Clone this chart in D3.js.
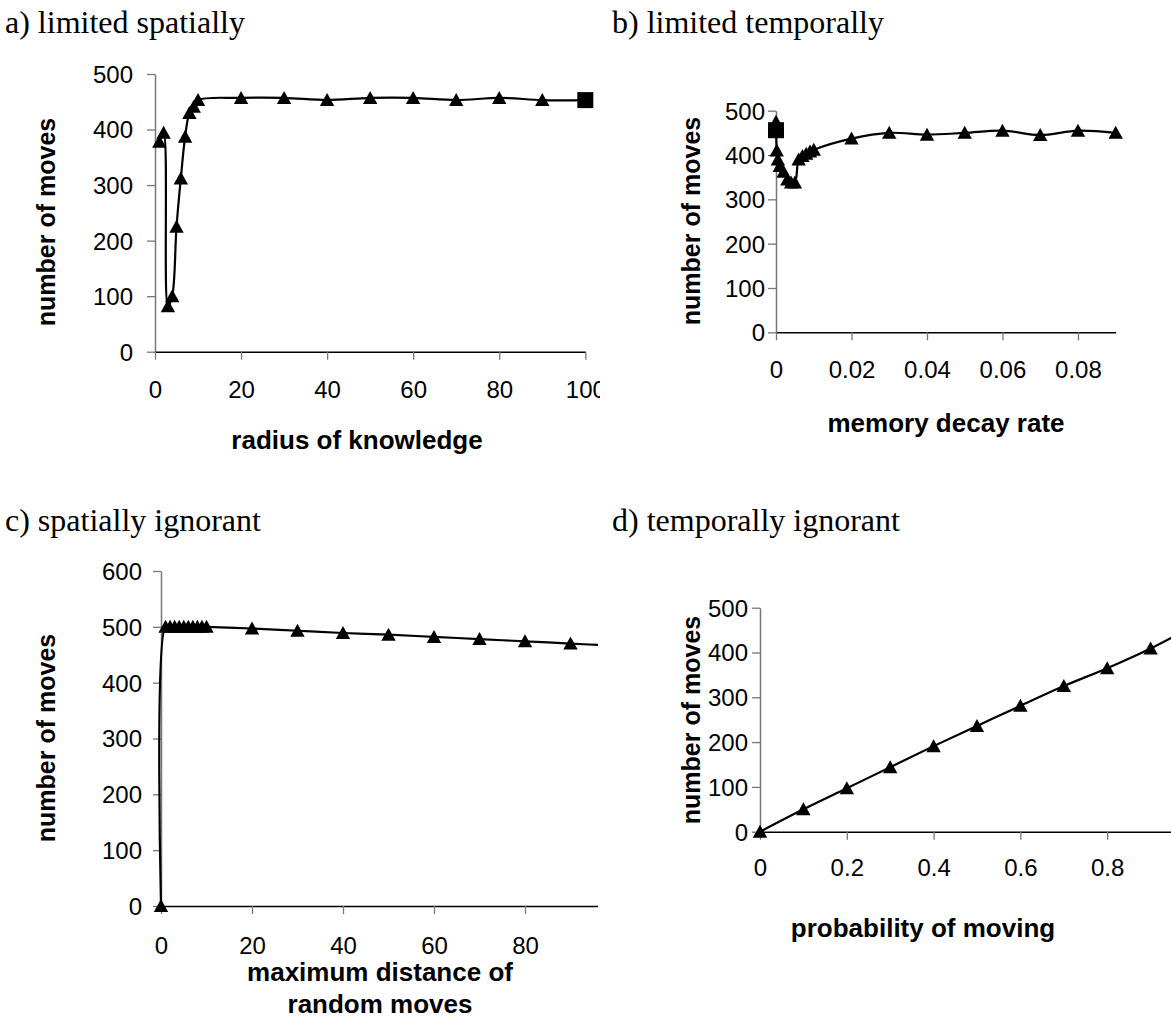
<!DOCTYPE html>
<html>
<head>
<meta charset="utf-8">
<script src="https://cdn.jsdelivr.net/npm/d3@7"></script>
<style>
  body { margin: 0; background: #fff; }
  svg { display: block; }
</style>
</head>
<body>
<svg id="fig" width="1171" height="1023"></svg>
<script>
// a) limited spatially: moves vs. radius of knowledge
const radiusX     = [1, 2, 3, 4, 5, 6, 7, 8, 9, 10, 20, 30, 40, 50, 60, 70, 80, 90];
const radiusMoves = [378, 394, 82, 100, 225, 312, 387, 430, 441, 453, 457, 457, 453, 457, 457, 453, 457, 453];
const radiusFullX = [100];
const radiusFullMoves = [453];

// b) limited temporally: moves vs. memory decay rate
const decayX     = [0, 0.0002, 0.0005, 0.001, 0.002, 0.003, 0.004, 0.005, 0.006, 0.007, 0.008, 0.009, 0.01,
                    0.02, 0.03, 0.04, 0.05, 0.06, 0.07, 0.08, 0.09];
const decayMoves = [475, 410, 390, 375, 362, 345, 338, 338, 390, 398, 403, 408, 412,
                    437, 450, 446, 450, 455, 445, 455, 450];
const decayFullX = [0];
const decayFullMoves = [456];

// c) spatially ignorant: moves vs. maximum distance of random moves
const distanceX     = [0, 1, 2, 3, 4, 5, 6, 7, 8, 9, 10, 20, 30, 40, 50, 60, 70, 80, 90, 100];
const distanceMoves = [0, 500, 500, 500, 500, 500, 500, 500, 500, 500, 500, 497, 493, 489, 486, 482, 478, 474, 470, 466];

// d) temporally ignorant: moves vs. probability of moving
const probX     = [0, 0.1, 0.2, 0.3, 0.4, 0.5, 0.6, 0.7, 0.8, 0.9, 1.0];
const probMoves = [0, 50, 97, 144, 191, 236, 281, 325, 365, 409, 460];

// tick values
const ticksA_x = [0, 20, 40, 60, 80, 100];
const ticksB_x = [0, 0.02, 0.04, 0.06, 0.08];
const ticksC_x = [0, 20, 40, 60, 80];
const ticksD_x = [0, 0.2, 0.4, 0.6, 0.8];
const ticks500 = [0, 100, 200, 300, 400, 500];
const ticks600 = [0, 100, 200, 300, 400, 500, 600];

const svg = d3.select("#fig");
const defs = svg.append("defs");
const SANS = "'Liberation Sans', Arial, sans-serif";
const SERIF = "'Liberation Serif', 'Times New Roman', serif";

const triangle = "M0,-7L7.2,6L-7.2,6Z";

function panel(o) {
  defs.append("clipPath").attr("id", o.id)
    .append("rect").attr("x", 0).attr("y", 0).attr("width", o.clipRight).attr("height", 1023);

  const g = svg.append("g").attr("clip-path", `url(#${o.id})`);
  const x = d3.scaleLinear().domain(o.xDomain).range(o.xRange);
  const y = d3.scaleLinear().domain(o.yDomain).range(o.yRange);

  // value axis
  const ya = g.append("g")
    .attr("transform", `translate(${o.xRange[0]},0)`)
    .call(d3.axisLeft(y).tickValues(o.yTicks).tickSize(8).tickSizeOuter(0).tickFormat(d3.format("d")));
  ya.select(".domain").attr("stroke", "#777").attr("stroke-width", 1.5);
  ya.selectAll(".tick line").attr("stroke", "#777").attr("stroke-width", 1.3);
  ya.selectAll(".tick text")
    .attr("x", -o.yGap).attr("dy", "0.35em")
    .attr("font-family", SANS).attr("font-size", 24).attr("fill", "#000");

  // horizontal axis
  const xa = g.append("g")
    .attr("transform", `translate(0,${o.yRange[0]})`)
    .call(d3.axisBottom(x).tickValues(o.xTicks).tickSize(8).tickSizeOuter(0).tickFormat(o.xFormat));
  xa.select(".domain").attr("stroke", "#000").attr("stroke-width", 1.5);
  xa.selectAll(".tick line").attr("stroke", "#777").attr("stroke-width", 1.3);
  xa.selectAll(".tick text")
    .attr("y", o.xLabelY).attr("dy", 0)
    .attr("font-family", SANS).attr("font-size", 24).attr("fill", "#000");

  // smoothed series line
  const pts = o.xs.map((v, i) => [v, o.ys[i]]);
  if (o.lineExtra) o.lineExtra.forEach(p => pts.push(p));
  pts.sort((a, b) => a[0] - b[0]);
  const line = d3.line().x(d => x(d[0])).y(d => y(d[1])).curve(d3.curveCatmullRom.alpha(0.5));
  g.append("path").datum(pts)
    .attr("fill", "none").attr("stroke", "#000").attr("stroke-width", 2.2)
    .attr("d", line);

  // triangle markers
  g.append("g").selectAll("path").data(o.xs.map((v, i) => [v, o.ys[i]])).join("path")
    .attr("transform", d => `translate(${x(d[0])},${y(d[1])})`)
    .attr("d", triangle).attr("fill", "#000");

  // square markers
  if (o.sqX) {
    g.append("g").selectAll("rect").data(o.sqX.map((v, i) => [v, o.sqY[i]])).join("rect")
      .attr("x", d => x(d[0]) - 8).attr("y", d => y(d[1]) - 8)
      .attr("width", 16).attr("height", 16).attr("fill", "#000");
  }

  // axis titles
  const xt = g.append("text")
    .attr("text-anchor", "middle")
    .attr("font-family", SANS).attr("font-weight", "bold").attr("font-size", 26);
  o.xTitle.forEach((t, i) => {
    xt.append("tspan").attr("x", o.xTitlePos[0]).attr("y", o.xTitlePos[1] + i * 32).text(t);
  });

  g.append("text")
    .attr("transform", `translate(${o.yTitlePos[0]},${o.yTitlePos[1]}) rotate(-90)`)
    .attr("text-anchor", "middle")
    .attr("font-family", SANS).attr("font-weight", "bold").attr("font-size", 25)
    .text("number of moves");

  svg.append("text")
    .attr("x", o.titlePos[0]).attr("y", o.titlePos[1])
    .attr("font-family", SERIF).attr("font-size", 32).attr("fill", "#000")
    .text(o.title);
}

panel({
  id: "clipA", title: "a) limited spatially", titlePos: [5, 33],
  xs: radiusX, ys: radiusMoves, sqX: radiusFullX, sqY: radiusFullMoves,
  lineExtra: radiusFullX.map((v, i) => [v, radiusFullMoves[i]]),
  xDomain: [0, 100], xRange: [155, 585.3], yDomain: [0, 500], yRange: [351.7, 74],
  xTicks: ticksA_x, yTicks: ticks500, xFormat: d3.format("d"),
  yGap: 22, xLabelY: 46, clipRight: 600,
  xTitle: ["radius of knowledge"], xTitlePos: [357, 449], yTitlePos: [55, 222]
});

panel({
  id: "clipB", title: "b) limited temporally", titlePos: [612, 33],
  xs: decayX, ys: decayMoves, sqX: decayFullX, sqY: decayFullMoves,
  xDomain: [0, 0.09], xRange: [776, 1115.7], yDomain: [0, 500], yRange: [332.3, 110.7],
  xTicks: ticksB_x, yTicks: ticks500, xFormat: d => d === 0 ? "0" : d3.format(".2f")(d),
  yGap: 11, xLabelY: 46, clipRight: 1171,
  xTitle: ["memory decay rate"], xTitlePos: [946, 432], yTitlePos: [700, 221]
});

panel({
  id: "clipC", title: "c) spatially ignorant", titlePos: [5, 531],
  xs: distanceX, ys: distanceMoves,
  xDomain: [0, 100], xRange: [161, 616], yDomain: [0, 600], yRange: [906, 571],
  xTicks: ticksC_x, yTicks: ticks600, xFormat: d3.format("d"),
  yGap: 19, xLabelY: 48, clipRight: 598,
  xTitle: ["maximum distance of", "random moves"], xTitlePos: [380, 981], yTitlePos: [55, 738]
});

panel({
  id: "clipD", title: "d) temporally ignorant", titlePos: [612, 531],
  xs: probX, ys: probMoves,
  xDomain: [0, 1], xRange: [760, 1194], yDomain: [0, 500], yRange: [831.7, 607.7],
  xTicks: ticksD_x, yTicks: ticks500, xFormat: d => d === 0 ? "0" : d3.format(".1f")(d),
  yGap: 12, xLabelY: 44, clipRight: 1171,
  xTitle: ["probability of moving"], xTitlePos: [923, 937], yTitlePos: [700, 720]
});
</script>
</body>
</html>
